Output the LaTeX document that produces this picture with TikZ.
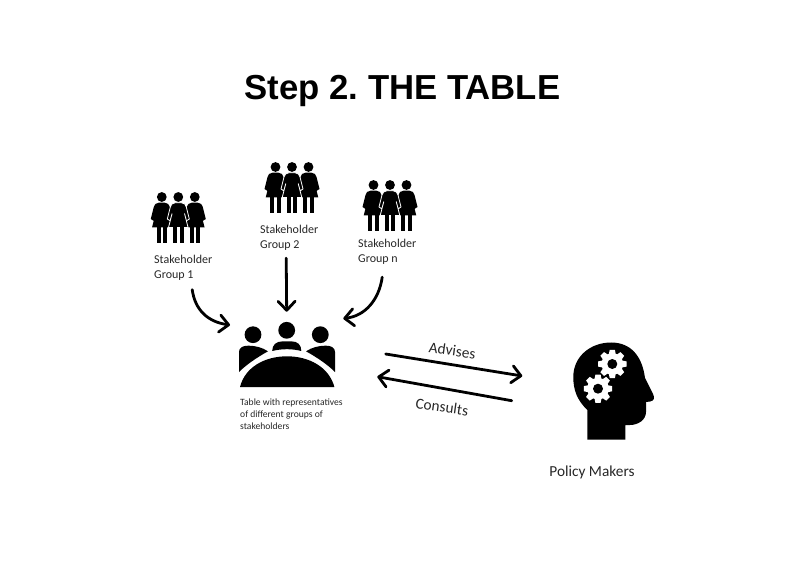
\documentclass[tikz,border=0pt]{standalone}
\usepackage{fontspec}
\setmainfont{Carlito}
\newfontfamily\titlefont{Liberation Sans}
\usetikzlibrary{positioning, arrows, arrows.meta}

\tikzset{
  flow/.style={line width=2.8pt, line cap=round, -{Straight Barb[length=9pt, width=17pt, line width=2.8pt, round]}},
  caption/.style={inner sep=0pt, align=left, text=black!85, font=\fontsize{12}{15}\selectfont},
  wordlabel/.style={inner sep=0pt, text=black!85, font=\fontsize{15.3}{17}\selectfont},
  woman/.pic={
    \fill (0,0) circle (4.9);
    \path[fill, pic actions] (-3,5.7) -- (3,5.7) .. controls (6,5.9) and (7.4,7.5) .. (8,10) -- (11,22) -- (8.2,23.8) -- (6.2,16.5) -- (9.8,30.5) -- (-9.8,30.5) -- (-6.2,16.5) -- (-8.2,23.8) -- (-11,22) -- (-8,10) .. controls (-7.4,7.5) and (-6,5.9) .. (-3,5.7) -- cycle;
    \fill (-5.2,30) rectangle (-1.2,46);
    \fill (1.2,30) rectangle (5.2,46);
  },
  womengroup/.pic={
    \pic at (-16.5,0) {woman};
    \pic at (16.5,0) {woman};
    \pic[draw=white, line width=0.8pt] at (0,0) {woman};
  },
  gear/.pic={
    \foreach \a in {0,45,...,315} {
      \fill[white, rotate=\a] (-3.6,9) -- (-2.6,14.2) -- (2.6,14.2) -- (3.6,9) -- cycle;
    }
    \fill[white] (0,0) circle (10.8);
    \fill (0,0) circle (5);
  },
}

\begin{document}
\begin{tikzpicture}[x=1pt, y=-1pt]
\useasboundingbox (0,0) rectangle (806,569);

% --- title ---
\node[font=\titlefont\bfseries\fontsize{34.7}{36}\selectfont\frenchspacing, inner sep=0pt] (title) at (402.5,90.5) {Step 2. THE TABLE};

% --- stakeholder groups ---
\pic at (178.3,197) {womengroup};
\pic at (292,167) {womengroup};
\pic at (390,185) {womengroup};

\node[caption, anchor=north west] (groupa) at (154,255) {Stakeholder\\Group 1};
\node[caption, anchor=north west] (groupb) at (260,225) {Stakeholder\\Group 2};
\node[caption, anchor=north west] (groupn) at (358,238.5) {Stakeholder\\Group n};

% --- table ---
\fill (253,334.7) circle (8.4);
\fill (286.7,330.3) circle (8.4);
\fill (320.3,334.7) circle (8.4);
\fill (239,372) -- (239,352) .. controls (239,347.5) and (243,345.7) .. (248,345.7) .. controls (256,345.7) and (262,347.5) .. (268,351.3) .. controls (256,358) and (246,365) .. (239,372) -- cycle;
\fill (335,372) -- (335,352) .. controls (335,347.5) and (331,345.7) .. (326,345.7) .. controls (318,345.7) and (312,347.5) .. (306,351.3) .. controls (318,358) and (328,365) .. (335,372) -- cycle;
\fill (272.2,351) .. controls (272.2,345) and (276,341.3) .. (283,341.3) -- (291,341.3) .. controls (298,341.3) and (301.3,345) .. (301.3,351) .. controls (292,348.6) and (282,348.6) .. (272.2,351) -- cycle;
\draw[white, line width=5pt] (240,387) .. controls (245,367) and (265,356.3) .. (287,356.3) .. controls (309,356.3) and (329,367) .. (334.4,387);
\fill (240,387) .. controls (245,367) and (265,356.3) .. (287,356.3) .. controls (309,356.3) and (329,367) .. (334.4,387) -- cycle;

\node[caption, anchor=north west, font=\fontsize{9.6}{12.2}\selectfont] (tablelabel) at (240,398.5) {Table with representatives\\of different groups of\\stakeholders};
\coordinate (tablea) at (230,325);
\coordinate (tableb) at (286.7,311.7);
\coordinate (tablen) at (343.3,318.5);

% --- policy makers ---
\fill (587.3,439.5) -- (587.3,410) .. controls (577,400) and (573.3,390) .. (573.3,377) .. controls (573.3,356) and (591,342.5) .. (611,342.5) .. controls (630,342.5) and (642,355) .. (645,378) -- (653,394) .. controls (655,398) and (654,401) .. (650,401.5) -- (646,402) -- (646,412) .. controls (646,420) and (638,425) .. (630,425) -- (625.3,425) -- (625.3,439.5) -- cycle;
\pic at (598,388.7) {gear};
\pic at (612.3,364) {gear};
\node[wordlabel] (policy) at (592,472) {Policy Makers};

% --- arrows ---
\draw[flow] ([shift={(9,9)}]groupa.south) .. controls (195,310) and (208,322) .. (tablea);
\draw[flow] ([shift={(-3,7.5)}]groupb.south) -- (tableb);
\draw[flow] ([shift={(-5,13)}]groupn.south) .. controls (379,300) and (365,316) .. (tablen);

\coordinate (advisesa) at (385.7,354);
\coordinate (advisesb) at (522.3,376);
\coordinate (consultsa) at (511.7,400.7);
\coordinate (consultsb) at (377.3,376.7);
\draw[flow] (advisesa) -- (advisesb);
\draw[flow] (consultsa) -- (consultsb);
\node[wordlabel, rotate=-8] (advises) at (452.3,350.5) {Advises};
\node[wordlabel, rotate=-8] (consults) at (442,407) {Consults};
\end{tikzpicture}
\end{document}
